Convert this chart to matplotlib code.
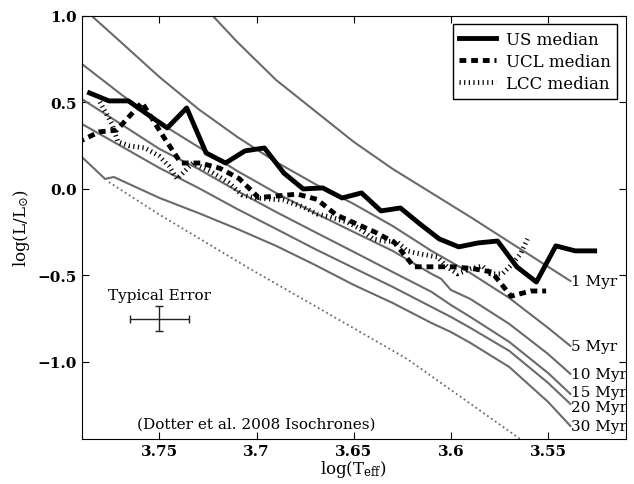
import matplotlib
matplotlib.use("Agg")
import matplotlib.pyplot as plt

plt.rcParams['font.family'] = 'DejaVu Serif'
plt.rcParams['mathtext.fontset'] = 'dejavuserif'

# Dotter et al. 2008 isochrones
iso_1_x = [3.735, 3.73, 3.71, 3.69, 3.67, 3.65, 3.63, 3.61, 3.59, 3.57, 3.5385]
iso_1_y = [1.17, 1.09, 0.85, 0.63, 0.451, 0.272, 0.116, -0.023, -0.162, -0.306, -0.532]

iso_5_x = [3.795, 3.79, 3.77, 3.75, 3.73, 3.71, 3.69, 3.67, 3.65, 3.63, 3.61, 3.59, 3.57, 3.55, 3.5385]
iso_5_y = [1.10, 1.052, 0.85, 0.647, 0.462, 0.301, 0.156, 0.029, -0.087, -0.214, -0.358, -0.486, -0.630, -0.803, -0.908]

iso_10_x = [3.79, 3.77, 3.75, 3.73, 3.71, 3.69, 3.67, 3.65, 3.63, 3.61, 3.605, 3.60, 3.59, 3.57, 3.55, 3.5385]
iso_10_y = [0.723, 0.549, 0.382, 0.243, 0.104, -0.023, -0.139, -0.249, -0.358, -0.491, -0.520, -0.584, -0.636, -0.78, -0.954, -1.069]

iso_x = [3.79, 3.77, 3.75, 3.73, 3.71, 3.69, 3.67, 3.65, 3.63, 3.61, 3.60, 3.59, 3.57, 3.55, 3.5385]
iso_15_y = [0.520, 0.376, 0.231, 0.116, -0.012, -0.133, -0.249, -0.364, -0.480, -0.595, -0.671, -0.740, -0.884, -1.064, -1.185]
iso_20_y = [0.376, 0.249, 0.121, 0.006, -0.116, -0.231, -0.347, -0.457, -0.566, -0.682, -0.740, -0.803, -0.936, -1.121, -1.243]

iso_30_x = [3.79, 3.778, 3.7735, 3.75, 3.73, 3.71, 3.69, 3.67, 3.65, 3.63, 3.61, 3.60, 3.59, 3.57, 3.55, 3.5385]
iso_30_y = [0.185, 0.058, 0.069, -0.052, -0.139, -0.231, -0.329, -0.439, -0.555, -0.659, -0.775, -0.827, -0.890, -1.029, -1.231, -1.370]

low_x = [3.7761, 3.7498, 3.7034, 3.6673, 3.6225, 3.5658, 3.555]
low_y = [0.040, -0.150, -0.462, -0.694, -0.983, -1.434, -1.52]

iso_labels = ['1 Myr', '5 Myr', '10 Myr', '15 Myr', '20 Myr', '30 Myr']
iso_label_y = [-0.532, -0.908, -1.069, -1.175, -1.262, -1.37]

# medians
us_x = [3.786, 3.776, 3.766, 3.756, 3.746, 3.736, 3.726, 3.716, 3.706, 3.696, 3.686, 3.676, 3.666, 3.656,
        3.646, 3.636, 3.626, 3.616, 3.606, 3.596, 3.586, 3.576, 3.566, 3.556, 3.546, 3.536, 3.526]
us_y = [0.555, 0.509, 0.509, 0.43, 0.353, 0.468, 0.208, 0.150, 0.220, 0.237, 0.092, 0.000, 0.006, -0.052,
        -0.023, -0.127, -0.110, -0.202, -0.289, -0.335, -0.312, -0.301, -0.451, -0.538, -0.329, -0.358, -0.358]

ucl_x = [3.792, 3.781, 3.772, 3.759, 3.749, 3.739, 3.729, 3.719, 3.709, 3.699, 3.689, 3.679, 3.669, 3.659,
         3.649, 3.639, 3.629, 3.619, 3.609, 3.599, 3.589, 3.579, 3.569, 3.559, 3.551]
ucl_y = [0.27, 0.33, 0.34, 0.50, 0.32, 0.15, 0.15, 0.12, 0.06, -0.05, -0.04, -0.03, -0.06, -0.15,
         -0.20, -0.25, -0.31, -0.45, -0.45, -0.45, -0.46, -0.48, -0.62, -0.59, -0.59]

lcc_x = [3.7807, 3.7745, 3.7714, 3.7653, 3.7575, 3.7503, 3.7452, 3.7410, 3.7328, 3.7240, 3.7142, 3.7075,
         3.7008, 3.6864, 3.6761, 3.6689, 3.6622, 3.6534, 3.6467, 3.6400, 3.6348, 3.6276, 3.6225, 3.6158,
         3.6070, 3.6019, 3.5967, 3.5900, 3.5838, 3.5797, 3.5735, 3.5684, 3.5642, 3.5606]
lcc_y = [0.503, 0.376, 0.272, 0.249, 0.237, 0.191, 0.133, 0.058, 0.150, 0.104, 0.035, -0.035,
         -0.052, -0.064, -0.104, -0.145, -0.162, -0.191, -0.231, -0.289, -0.301, -0.306, -0.358, -0.376,
         -0.393, -0.451, -0.491, -0.462, -0.445, -0.491, -0.491, -0.434, -0.376, -0.289]

fig = plt.figure(figsize=(6.34, 4.85), dpi=100)
ax = fig.add_axes([0.129, 0.093, 0.858, 0.872])

gray = '#6a6a6a'
isos = [(iso_1_x, iso_1_y), (iso_5_x, iso_5_y), (iso_10_x, iso_10_y),
        (iso_x, iso_15_y), (iso_x, iso_20_y), (iso_30_x, iso_30_y)]
for (xs, ys), lab, ly in zip(isos, iso_labels, iso_label_y):
    ax.plot(xs, ys, color=gray, lw=1.5)
    ax.text(xs[-1] - 0.0005, ly, lab, fontsize=11, ha='left', va='center')
ax.plot(low_x, low_y, color=gray, lw=1.3, ls=':')

ax.plot(us_x, us_y, color='black', lw=3.5, label='US median')
ax.plot(ucl_x, ucl_y, color='black', lw=3.5, dashes=(1.4, 1.0), label='UCL median')
ax.plot(lcc_x, lcc_y, color='black', lw=3.5, dashes=(0.25, 0.7), label='LCC median')

# typical error bar
ax.errorbar([3.75], [-0.75], xerr=0.015, yerr=0.072, color='#222222', lw=1, capsize=3)
ax.text(3.75, -0.615, 'Typical Error', fontsize=11, ha='center', va='center')
ax.text(3.70, -1.355, '(Dotter et al. 2008 Isochrones)', fontsize=11, ha='center', va='center')

ax.set_xlim(3.79, 3.51)
ax.set_ylim(-1.445, 1.0)
ax.set_xticks([3.75, 3.7, 3.65, 3.6, 3.55])
ax.set_xticklabels(['3.75', '3.7', '3.65', '3.6', '3.55'])
ax.set_yticks([1.0, 0.5, 0.0, -0.5, -1.0])
ax.set_yticklabels(['1.0', '0.5', '0.0', '\u22120.5', '\u22121.0'])
ax.tick_params(direction='in', top=True, right=True, length=5, labelsize=11)
for lbl in ax.get_xticklabels() + ax.get_yticklabels():
    lbl.set_fontweight('bold')

ax.set_xlabel(r'$\mathrm{log(T_{eff})}$', fontsize=12, labelpad=0)
ax.set_ylabel(r'$\mathrm{log(L/L_{\odot})}$', fontsize=12, labelpad=4)

leg = ax.legend(loc='upper right', fontsize=12, handlelength=2.2, handletextpad=0.6, fancybox=False,
                framealpha=1, edgecolor='black', borderpad=0.4, labelspacing=0.3)
leg.get_frame().set_linewidth(1)

fig.savefig('out.png', dpi=100)
